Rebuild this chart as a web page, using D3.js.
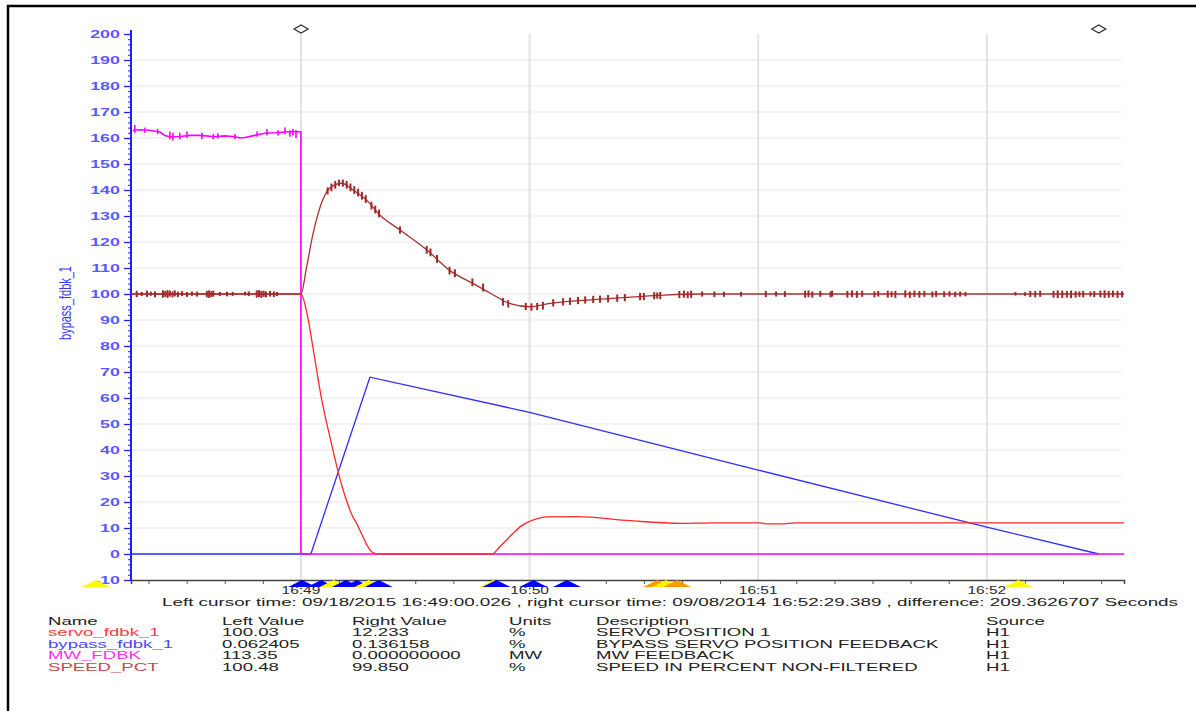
<!DOCTYPE html>
<html>
<head>
<meta charset="utf-8">
<script src="https://cdn.jsdelivr.net/npm/d3@7"></script>
<style>
  body { margin: 0; background: #fff; }
  svg { display: block; font-family: "Liberation Sans", Arial, sans-serif; }
</style>
</head>
<body>
<div id="viz"></div>
<script>
// all times are seconds from 16:49:00
const timeDomain = [-44.6, 216];
const yDomain = [-10, 200];
const yTicks = d3.range(-10, 201, 10);

const servo = [[-44.6,100],[0,100],[1.8,91],[3.2,79],[5.5,59],[7.6,45],[9.7,32],[11,25],[12.1,20],[13.4,15],
  [14.7,11.5],[16,7.5],[17.3,3.5],[18.3,1.2],[19.4,0.2],[20.5,0],[50.2,0],[52,2.5],[55.7,8],[58,11],[60.1,12.6],
  [64.6,14.3],[72.5,14.4],[86.4,12.8],[99.5,11.8],[108.2,12],[120.5,12],[122.4,11.6],[125.8,11.6],[130,12],[216,12]];

const bypass = [[-44.6,0],[2.6,0],[18.1,68],[60,54.5],[120,32.3],[180,10.3],[209.4,0]];

const mw = [[-44.1,163],[-42.3,163.2],[-39.7,163],[-37,162.3],[-35.7,161],[-34.4,160.5],[-31.8,160.6],[-29.1,161],
  [-26.5,161],[-22.6,160.5],[-20,160.8],[-17.3,160.5],[-16,160],[-14.7,160.2],[-12.1,161],[-9.5,161.8],[-6.8,162],
  [-4.2,162.3],[-1.1,162.5],[0,162.3],[0,0],[216,0]];

const mwSpikes = [[-43.6,162,165],[-41,162,164],[-37.6,161.5,163.5],[-34.4,159.5,162.5],[-33.6,159,162],
  [-31.8,159.5,162],[-29.9,160,162.5],[-26,159.5,162],[-23,159.5,161.5],[-21.8,159.8,161.8],[-17.3,159.5,161.5],
  [-11.5,160.5,162.5],[-8.9,161,163.5],[-6,161,163],[-4.2,161.5,164],[-2.9,160.5,163],[-2.1,161,163.5],[-1.3,160,163]];

const speed = [[-44.6,100],[0,100],[1.5,110.5],[3.15,123],[5.4,135],[7.6,140.8],[10.7,142.6],[13.7,140],[17.3,136],
  [20.7,130.4],[26,124.6],[33,117],[39.1,109],[45.2,104],[49.6,100.4],[54.9,96.3],[60.1,95.1],[65.4,96.4],
  [78.5,98],[94.3,99.5],[104.8,100],[216,100]];

const speedSpikes = [
  [-43.1,98.8,101.2],[-41.8,99.2,100.8],[-40.4,98.9,101.3],[-39.4,99.3,100.9],[-38.3,98.7,101],[-36.2,98.6,101.4],
  [-35.6,98.9,101.2],[-35,98.5,101.5],[-34.4,99,101.3],[-33.7,98.7,101],[-33.1,99.1,101.4],[-32.3,98.8,100.9],
  [-31.2,99.2,101.1],[-29.9,98.9,100.8],[-28.6,99.3,101],[-27.3,99,100.9],[-24.7,98.7,101.2],[-24.1,98.5,101.4],
  [-23.5,98.8,101.1],[-23,99,101.3],[-21.3,99.2,100.8],[-19.4,99.1,100.9],[-17.9,99.3,100.8],[-14.7,99.4,100.9],
  [-13.7,99.2,101],[-11.6,98.6,101.4],[-11,98.8,101.5],[-10.4,98.5,101.2],[-9.8,98.9,101.3],[-9.2,98.7,101],
  [-8.1,99,101.2],[-7.1,98.8,101],[-6.3,99.2,100.8],
  [7,138.3,141],[8,139.5,142.5],[9,140.5,143.5],[10,141.5,144],[11,141.3,144],[12,140.5,143.5],[13,139.5,142.5],
  [14,138.5,141.5],[15,137.5,140.5],[16,136.3,139.3],[17,135,138],[18.5,132.5,135.5],[19.5,131,134],[20.5,129.5,132.5],
  [26,123.2,126],[33,115.5,118.5],[34,114.5,117.5],[35.7,112,115],[39,107.5,110.5],[40.4,106.5,109.5],[45,103,106],
  [47.8,101,104],[53,95.5,98.5],[54.4,94.8,97.6],[59,93.8,96.6],[60.5,93.6,96.4],[62,93.8,96.6],[63.5,94,97],
  [66.2,95.2,98],[68.8,95.6,98.4],[70.6,95.8,98.6],[72.7,96.1,98.9],[74.6,96.3,99.1],[76.7,96.5,99.3],[78.5,96.6,99.4],
  [80.6,96.8,99.6],[83,97,99.8],[85,97.2,100],[89,97.6,100.4],[90,97.6,100.4],[92.7,98,100.7],[93.5,98.2,100.6],
  [94.3,98,100.8],[99.3,98.4,101.2],[100.5,98.6,101.3],[101.5,98.4,101],[102.4,98.5,101.3],[105.3,99,101],
  [108.5,98.8,101],[111,98.9,100.9],[115.5,99,100.8],[122,98.8,101.2],[124.7,99,101],[127,98.9,101.1],
  [132.3,98.6,101.3],[133.2,98.8,101.4],[134.2,98.6,101],[136.3,98.9,101.2],[139,98.7,101],[139.4,99,101.3],
  [143.4,98.6,101.2],[144.6,98.8,101.4],[145.9,98.5,101.1],[147.3,98.9,101.3],[150.5,98.7,101],[151.5,99,101.2],
  [154,98.6,101.3],[155,98.8,101],[156,98.5,101.2],[158.6,98.7,101.4],[159.8,98.5,101],[161,98.8,101.3],
  [162.3,98.6,101.1],[163.6,98.9,101.2],[165.7,98.7,101],[166.7,98.9,101.2],[168.8,98.8,101],[170.2,99,101.1],
  [171.7,98.8,100.9],[173,99,101],[174.4,99.1,100.8],[187.5,99.4,100.8],[190,99.3,100.7],[191.4,98.8,101.2],
  [192.7,98.7,101.1],[194,98.9,101.3],[197.5,98.6,101.2],[198.6,98.4,101.4],[199.8,98.5,101.3],[201,98.6,101.2],
  [202.1,98.4,101.3],[203.3,98.6,101.1],[204.3,98.9,101],[205.3,98.7,101.2],[207.2,99,101],[208.2,98.8,101.1],
  [209.8,98.7,101.3],[210.9,98.5,101.4],[212,98.6,101.2],[213.1,98.8,101.3],[214.3,98.5,101.2],[215.5,98.7,101.1]
];

const cursors = [0.026, 209.36];
const events = [[-53.8,"#ffff00"],[0.3,"#0000ff"],[5.3,"#0000ff"],[8.6,"#ffff00"],[11.8,"#0000ff"],[14.7,"#0000ff"],
  [17.8,"#ffff00"],[20.4,"#0000ff"],[50.5,"#ffff00"],[51.3,"#0000ff"],[61,"#0000ff"],[69.8,"#0000ff"],
  [93.5,"#ff9900"],[95.8,"#ffee00"],[98.7,"#ff9900"],[188.3,"#ffff00"]];

const cursorText = "Left cursor time: 09/18/2015 16:49:00.026 , right cursor time: 09/08/2014 16:52:29.389 , difference: 209.3626707 Seconds";
const headers = ["Name","Left Value","Right Value","Units","Description","Source"];
const tagNames = ["servo_fdbk_1","bypass_fdbk_1","MW_FDBK","SPEED_PCT"];
const leftValues = ["100.03","0.062405","113.35","100.48"];
const rightValues = ["12.233","0.136158","0.000000000","99.850"];
const units = ["%","%","MW","%"];
const descriptions = ["SERVO POSITION 1","BYPASS SERVO POSITION FEEDBACK","MW FEEDBACK","SPEED IN PERCENT NON-FILTERED"];
const sources = ["H1","H1","H1","H1"];
const tagColors = ["#ff3a3a","#4848ff","#ff30ff","#c44a4a"];

const width = 1196, height = 711;
const base = new Date(2015, 8, 18, 16, 49, 0);
const T = s => new Date(base.getTime() + s * 1000);

const svg = d3.select("#viz").append("svg").attr("width", width).attr("height", height);
svg.append("rect").attr("width", width).attr("height", height).attr("fill", "#fff");

const x = d3.scaleTime().domain(timeDomain.map(T)).range([131, 1124]);
const y = d3.scaleLinear().domain(yDomain).range([580, 34]);

function stretch(sel, k) {
    sel.each(function () {
        const w = this.getComputedTextLength();
        d3.select(this).attr("textLength", w * k).attr("lengthAdjust", "spacingAndGlyphs");
    });
}

// frame
svg.append("rect").attr("x", 8).attr("y", 6).attr("width", 1250).attr("height", 760)
    .attr("fill", "none").attr("stroke", "#000").attr("stroke-width", 2.5);

// grid
svg.append("g").selectAll("line").data(yTicks.filter(v => v > -10 && v < 200)).enter().append("line")
    .attr("x1", 131).attr("x2", 1121).attr("y1", d => y(d)).attr("y2", d => y(d))
    .attr("stroke", "#e8e8e8").attr("stroke-width", 1.2);
const minutes = d3.timeMinute.range(T(timeDomain[0]), T(timeDomain[1]));
svg.append("g").selectAll("line").data(minutes).enter().append("line")
    .attr("x1", d => x(d)).attr("x2", d => x(d)).attr("y1", y(200)).attr("y2", y(-10))
    .attr("stroke", "#e2e2e2").attr("stroke-width", 2);

// x axis
const xAxis = svg.append("g").attr("transform", `translate(0,${y(-10)})`)
    .call(d3.axisBottom(x).ticks(d3.timeSecond.every(10)).tickSize(4).tickFormat(""));
xAxis.select(".domain").attr("stroke", "#444").attr("stroke-width", 1.5);
xAxis.selectAll(".tick line").attr("stroke", "#555");
xAxis.selectAll(".tick").filter(d => d.getSeconds() === 0).select("line").remove();
svg.append("g").selectAll("text").data(minutes).enter().append("text")
    .attr("x", d => x(d)).attr("y", 593.5).attr("text-anchor", "middle")
    .attr("font-size", 11.5).attr("fill", "#2a2a2a").text(d3.timeFormat("%H:%M"))
    .call(stretch, 1.35);

// y axis
const yAxis = svg.append("g").attr("transform", "translate(131,0)")
    .call(d3.axisLeft(y).tickValues(d3.range(-10, 201, 2)).tickSize(3).tickFormat(""));
yAxis.selectAll("line, path").attr("stroke", "#2020ff");
yAxis.select(".domain").attr("stroke-width", 2).attr("d", `M0,${y(-10)}V${y(200) - 4}`);
yAxis.selectAll(".tick").filter(d => d % 10 === 0).select("line").attr("x2", -7).attr("stroke-width", 1.3);
svg.append("g").selectAll("text").data(yTicks).enter().append("text")
    .attr("x", 120).attr("y", d => y(d) + 3.8).attr("text-anchor", "end")
    .attr("font-size", 10.5).attr("font-weight", "bold").attr("fill", "#5a5aff").text(d => d)
    .call(stretch, 1.7);
svg.append("text").attr("transform", "translate(71,303) rotate(-90) scale(1,1.5)")
    .attr("text-anchor", "middle").attr("font-size", 11).attr("fill", "#3a3aff").text("bypass_fdbk_1");

// series
const line = d3.line().x(d => x(T(d[0]))).y(d => y(d[1]));
const smooth = d3.line().x(d => x(T(d[0]))).y(d => y(d[1])).curve(d3.curveMonotoneX);

svg.append("path").datum(bypass).attr("d", line).attr("fill", "none").attr("stroke", "#2e2eff").attr("stroke-width", 1.3);
svg.append("path").datum(mw).attr("d", line).attr("fill", "none").attr("stroke", "#ff00ff").attr("stroke-width", 1.6);
svg.append("g").selectAll("line").data(mwSpikes).enter().append("line")
    .attr("x1", d => x(T(d[0]))).attr("x2", d => x(T(d[0])))
    .attr("y1", d => y(d[1])).attr("y2", d => y(d[2]))
    .attr("stroke", "#ff00ff").attr("stroke-width", 1.6);
svg.append("path").datum(servo).attr("d", smooth).attr("fill", "none").attr("stroke", "#ff2828").attr("stroke-width", 1.3);
svg.append("path").datum(speed).attr("d", smooth).attr("fill", "none").attr("stroke", "#a83232").attr("stroke-width", 1.3);
svg.append("g").selectAll("line").data(speedSpikes).enter().append("line")
    .attr("x1", d => x(T(d[0]))).attr("x2", d => x(T(d[0])))
    .attr("y1", d => y(d[1])).attr("y2", d => y(d[2]))
    .attr("stroke", "#a02828").attr("stroke-width", 2);

// cursor diamonds
svg.append("g").selectAll("path").data(cursors).enter().append("path")
    .attr("transform", d => `translate(${x(T(d))},29)`)
    .attr("d", "M-7,0L0,-4L7,0L0,4Z")
    .attr("fill", "#fff").attr("stroke", "#333").attr("stroke-width", 1.3);

// event markers
svg.append("g").selectAll("path").data(events).enter().append("path")
    .attr("transform", d => `translate(${x(T(d[0]))},${y(-10)})`)
    .attr("d", "M0,0L14,7L-14,7Z").attr("fill", d => d[1]);

// cursor line
svg.append("text").attr("x", 162).attr("y", 606).attr("font-size", 11.5).attr("fill", "#222")
    .attr("textLength", 1016).attr("lengthAdjust", "spacingAndGlyphs").text(cursorText);

// legend table
const cols = [48, 222, 352, 509, 596, 986];
const rowY = [624.5, 636, 647.5, 659, 670.5];
const table = [headers].concat(tagNames.map((n, i) =>
    [n, leftValues[i], rightValues[i], units[i], descriptions[i], sources[i]]));
table.forEach((row, r) => {
    row.forEach((cell, c) => {
        svg.append("text").attr("x", cols[c]).attr("y", rowY[r])
            .attr("font-size", 11)
            .attr("fill", r > 0 && c === 0 ? tagColors[r - 1] : "#222")
            .text(cell).call(stretch, 1.69);
    });
});
</script>
</body>
</html>
